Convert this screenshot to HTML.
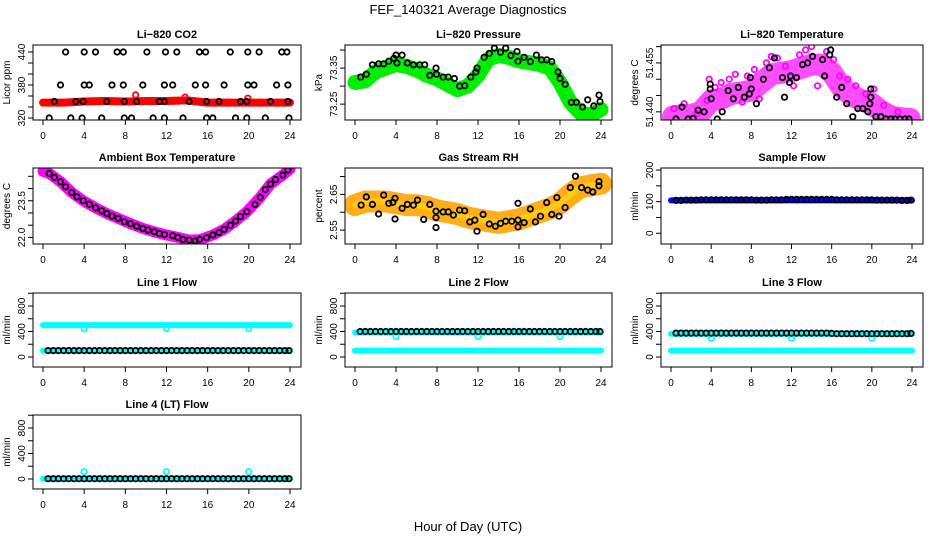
<!DOCTYPE html>
<html><head><meta charset="utf-8"><style>
html,body{margin:0;padding:0;background:#fff;}
svg{display:block;font-family:"Liberation Sans",Arial,sans-serif;}
</style></head><body>
<svg id="chart" width="936" height="540" viewBox="0 0 936 540" xmlns="http://www.w3.org/2000/svg">
<rect width="936" height="540" fill="#fff"/>
<text x="468" y="14" text-anchor="middle" font-size="13">FEF_140321  Average Diagnostics</text>
<text x="468" y="531" text-anchor="middle" font-size="13">Hour of Day (UTC)</text>
</svg>
<script>
// ---------- data ----------
const xTicks = [0,4,8,12,16,20,24];
// CO2
const co2Hours = [2.2,4.0,5.1,7.2,7.8,10.1,11.9,13.0,15.2,15.8,18.2,19.9,21.0,23.2,23.7, 1.7,4.0,4.5,6.7,7.8,9.7,11.8,12.6,14.8,15.8,17.6,19.9,20.5,22.7,23.8, 1.1,3.2,3.9,6.2,7.9,9.1,11.3,11.8,14.2,15.9,17.1,19.2,19.8,22.1,23.8, 0.6,2.7,3.8,5.7,7.9,8.6,10.7,11.8,13.6,15.9,16.5,18.7,19.8,21.6,23.9];
const co2Vals = [440,440,440,440,440,440,440,440,440,440,440,440,440,440,440, 380,380,380,380,380,380,380,380,380,380,380,380,380,380,380, 350,350,350,350,350,350,350,350,350,350,350,350,350,350,350, 320,320,320,320,320,320,320,320,320,320,320,320,320,320,320];
const co2BandHours = [0,2,4,6,8,10,12,14,16,18,20,22,24];
const co2BandVals = [348,348,350,351,350,351,351,352,348,348,348,348,348];
const co2OutHours = [9.0,13.8,19.9];
const co2OutVals = [362,358,356];
// Pressure
const presHours = [0.55,1.1,1.7,2.3,2.8,3.3,3.8,4.0,4.1,4.6,5.1,5.7,6.3,6.8,7.3,7.9,7.95,8.6,9.1,9.7,10.2,10.7,11.3,11.8,11.9,12.6,13.1,13.6,14.2,14.7,15.2,15.8,15.9,16.5,17.1,17.7,18.2,18.7,19.2,19.8,20.0,20.5,21.1,21.6,22.2,22.7,23.3,23.8,23.9];
const presVals = [73.325,73.333,73.359,73.362,73.362,73.369,73.377,73.386,73.364,73.386,73.364,73.359,73.359,73.359,73.33,73.35,73.333,73.325,73.325,73.321,73.30,73.301,73.325,73.339,73.35,73.38,73.391,73.405,73.394,73.405,73.385,73.396,73.369,73.38,73.368,73.386,73.373,73.373,73.368,73.339,73.321,73.305,73.255,73.255,73.242,73.262,73.245,73.275,73.257];
const presBandHours = [0,1,2,3,4,5,6,7,8,9,10,11,12,13,14,15,16,17,18,19,20,21,22,23,24];
const presBandVals = [73.31,73.315,73.34,73.35,73.36,73.355,73.345,73.33,73.32,73.305,73.29,73.3,73.33,73.375,73.385,73.38,73.37,73.365,73.36,73.35,73.31,73.255,73.225,73.22,73.235];
// Li-820 temperature
const tempHours = [0.5,1.1,1.7,2.2,2.7,3.3,3.9,3.9,4.0,4.6,5.1,5.7,6.2,6.7,7.3,7.8,7.9,8.0,8.5,9.2,9.8,10.3,11.1,11.3,11.8,11.9,12.5,13.1,13.6,14.1,15.1,15.3,15.8,15.9,16.5,17.0,17.5,18.1,18.6,19.1,19.6,19.8,19.9,19.9,20.4,20.9,21.4,21.9,22.3,22.8,23.3,23.7];
const tempVals = [51.4378,51.4415,51.4378,51.438,51.4405,51.440,51.4485,51.447,51.444,51.4378,51.440,51.4465,51.444,51.4475,51.4445,51.4455,51.4505,51.447,51.4425,51.450,51.4535,51.4565,51.4505,51.4445,51.449,51.451,51.4505,51.4545,51.455,51.457,51.456,51.451,51.4575,51.459,51.4445,51.4475,51.4425,51.4385,51.441,51.441,51.440,51.4425,51.4445,51.447,51.4385,51.4385,51.4378,51.4378,51.4378,51.4378,51.4378,51.4378];
const tempBandHours = [0.2,1,2,3,4,5,6,7,8,9,10,11,12,13,14,15,16,17,18,19,20,21,22,23,23.8];
const tempBandVals = [51.4385,51.439,51.439,51.440,51.4435,51.444,51.4455,51.446,51.4465,51.449,51.4515,51.452,51.4525,51.4535,51.4545,51.4545,51.452,51.4475,51.445,51.4435,51.4425,51.440,51.4385,51.438,51.4378];
const tempCloudHours = [0.3,1.3,2.6,3.6,3.8,4.4,5.0,5.8,6.4,7.1,7.6,8.3,8.8,9.5,10.0,10.6,11.4,12.2,12.8,13.4,14.0,14.6,15.5,16.2,16.8,17.6,18.4,19.4,20.2,21.2,22.6];
const tempCloudVals = [51.4410,51.4425,51.4395,51.4435,51.4500,51.4475,51.4490,51.4500,51.4515,51.4430,51.4510,51.4530,51.4440,51.4550,51.4570,51.4565,51.4540,51.4480,51.4575,51.4590,51.4600,51.4480,51.4585,51.4560,51.4510,51.4500,51.4480,51.4455,51.4470,51.4420,51.4400];
// Ambient box temperature
const ambHours = [0.6,1.1,1.7,2.2,2.8,3.3,3.9,4.5,5.1,5.7,6.2,6.7,7.3,7.9,8.5,9.1,9.7,10.2,10.8,11.3,11.8,12.6,13.1,13.6,14.2,14.8,15.2,15.9,16.5,17.1,17.6,18.2,18.7,19.2,19.8,20.6,21.1,21.6,22.1,22.6,23.3,23.8];
const ambVals = [24.62,24.46,24.28,24.07,23.84,23.66,23.5,23.36,23.21,23.09,22.98,22.87,22.78,22.64,22.56,22.46,22.37,22.3,22.23,22.16,22.12,22.07,22.0,21.92,21.89,21.86,21.92,21.99,22.1,22.2,22.33,22.5,22.67,22.85,23.05,23.35,23.64,23.96,24.18,24.37,24.55,24.76];
const ambBandHours = [0,0.6,1.7,2.8,3.9,5.1,6.2,7.3,8.5,9.7,10.8,11.8,13.1,14.2,15.2,16.5,17.6,18.7,19.8,21.1,22.1,23.3,24];
const ambBandVals = [24.70,24.62,24.28,23.84,23.5,23.21,22.98,22.78,22.56,22.37,22.23,22.12,22.0,21.89,21.9,22.1,22.33,22.67,23.05,23.64,24.18,24.55,24.80];
// Gas stream RH
const rhHours = [0.6,1.1,1.7,2.3,2.8,3.3,3.7,3.9,3.9,4.6,5.1,5.7,6.1,6.7,7.3,7.9,7.9,7.9,8.6,9.1,9.6,10.2,10.7,11.2,11.7,11.9,12.5,13.1,13.7,14.2,14.7,15.3,15.9,15.9,15.9,16.5,17.1,17.6,18.1,18.7,19.2,19.7,19.9,20.5,21.0,21.5,22.1,22.7,23.2,23.8,23.8];
const rhVals = [2.620,2.643,2.622,2.595,2.648,2.625,2.628,2.639,2.581,2.611,2.622,2.620,2.634,2.580,2.622,2.603,2.585,2.557,2.601,2.601,2.592,2.606,2.604,2.573,2.578,2.547,2.594,2.567,2.561,2.569,2.575,2.575,2.625,2.578,2.559,2.571,2.609,2.573,2.589,2.627,2.594,2.641,2.589,2.613,2.669,2.701,2.669,2.662,2.657,2.674,2.686];
const rhBandHours = [0,1,2,3,4,5,6,7,8,9,10,11,12,13,14,15,16,17,18,19,20,21,22,23,24];
const rhBandVals = [2.62,2.63,2.63,2.63,2.625,2.62,2.62,2.615,2.605,2.6,2.595,2.585,2.58,2.575,2.57,2.575,2.58,2.59,2.6,2.61,2.625,2.65,2.67,2.675,2.68];
// Flows (half-hourly samples)
const flowHours = [0.5,1,1.5,2,2.5,3,3.5,4,4.5,5,5.5,6,6.5,7,7.5,8,8.5,9,9.5,10,10.5,11,11.5,12,12.5,13,13.5,14,14.5,15,15.5,16,16.5,17,17.5,18,18.5,19,19.5,20,20.5,21,21.5,22,22.5,23,23.5,23.9];
const sampleVals = [104,104,105,105,105,106,106,106,106,106,106,106,106,106,106,106,105,105,105,106,106,106,107,107,107,107,107,107,107,107,107,107,106,106,106,106,106,106,106,106,105,105,105,105,105,104,104,105];
const line1Vals = [100,100,100,100,100,100,100,100,100,100,100,100,100,100,100,100,100,100,100,100,100,100,100,100,100,100,100,100,100,100,100,100,100,100,100,100,100,100,100,100,100,100,100,100,100,100,100,100];
const line2Vals = [400,400,400,400,400,400,400,400,400,400,400,400,400,400,400,400,400,400,400,400,400,400,400,400,400,400,400,400,400,400,400,400,400,400,400,400,400,400,400,400,400,400,400,400,400,400,400,400];
const line3Vals = [375,375,375,375,375,375,375,375,375,375,375,375,375,375,375,375,375,375,375,375,375,375,375,375,375,375,375,375,375,375,375,370,365,365,365,365,365,365,365,365,365,365,365,365,365,365,365,370];
const line4Vals = [5,5,5,5,5,5,5,5,5,5,5,5,5,5,5,5,5,5,5,5,5,5,5,5,5,5,5,5,5,5,5,5,5,5,5,5,5,5,5,5,5,5,5,5,5,5,5,5];
const bandHours = [0,24];
const line1Band = [500,500];
const line1Low = [100,100];
const line2Band = [385,385];
const line2Low = [100,100];
const line3Band = [365,365];
const line3Low = [100,100];
const line4Band = [5,5];
const dipHours = [4,12,20];
const line1Dips = [445,445,445];
const line2Dips = [320,320,320];
const line3Dips = [295,295,295];
const line4Dips = [115,115,115];

// ---------- rendering ----------
const svg = document.getElementById('chart');
const NS = 'http://www.w3.org/2000/svg';
function mk(tag, attrs, parent){
  const e = document.createElementNS(NS, tag);
  for (const k in attrs) e.setAttribute(k, attrs[k]);
  (parent||svg).appendChild(e);
  return e;
}
function Panel(name, l, r, t, b, ymin, ymax){
  const p = {l, r, t, b, ymin, ymax};
  p.g = mk('g', {});
  
  
  p.x = h => (l + 10) + h * ((r - 11) - (l + 10)) / 24;
  p.y = v => b - (v - ymin) * (b - t) / (ymax - ymin);
  const cid = 'clip-' + name;
  const cp = mk('clipPath', {id: cid}, p.g);
  mk('rect', {x: l, y: t, width: r - l, height: b - t}, cp);
  p.data = mk('g', {'clip-path': 'url(#' + cid + ')'}, p.g);
  
  
  return p;
}
function axes(p, title, ylab, yTicks, yLabels){
  const box = mk('rect', {x: p.l, y: p.t, width: p.r - p.l, height: p.b - p.t, fill: 'none', stroke: '#000', 'stroke-width': 1}, p.g);
  
  
  const tt = mk('text', {x: (p.l + p.r) / 2, y: p.t - 7, 'text-anchor': 'middle', 'font-size': 11, 'font-weight': 'bold'}, p.g);
  tt.textContent = title;
  
  
  const yt = mk('text', {transform: 'translate(' + (p.l - 23) + ',' + ((p.t + p.b) / 2) + ') rotate(-90)', 'text-anchor': 'middle', 'font-size': 10}, p.g);
  yt.textContent = ylab;
  
  
  xTicks.forEach(h => {
    const X = p.x(h);
    mk('line', {x1: X, x2: X, y1: p.b, y2: p.b + 5, stroke: '#000'}, p.g);
    const lb = mk('text', {x: X, y: p.b + 19, 'text-anchor': 'middle', 'font-size': 10}, p.g);
    lb.textContent = h;
    
    
  });
  mk('line', {x1: p.x(0), x2: p.x(24), y1: p.b, y2: p.b, stroke: '#000'}, p.g);
  yTicks.forEach((v, i) => {
    const Y = p.y(v);
    mk('line', {x1: p.l - 5, x2: p.l, y1: Y, y2: Y, stroke: '#000'}, p.g);
    if (yLabels[i] !== '') {
      const lb = mk('text', {transform: 'translate(' + (p.l - 8) + ',' + Y + ') rotate(-90)', 'text-anchor': 'middle', 'font-size': 10}, p.g);
      lb.textContent = yLabels[i];
      
      
    }
  });
}
function band(p, hs, vs, color, w, op){
  const d = hs.map((h, i) => (i ? 'L' : 'M') + p.x(h).toFixed(1) + ',' + p.y(vs[i]).toFixed(1)).join('');
  const e = mk('path', {d: d, fill: 'none', stroke: color, 'stroke-width': w, 'stroke-linejoin': 'round', 'stroke-linecap': 'round', opacity: op || 1}, p.data);
  
  
}
function pts(p, hs, vs, color, r, sw){
  hs.forEach((h, i) => {
    const c = mk('circle', {cx: p.x(h).toFixed(1), cy: p.y(vs[i]).toFixed(1), r: r || 2.7, fill: 'none', stroke: color, 'stroke-width': sw || 1.8}, p.data);
    
    
  });
}
const C1 = [33, 301], C2 = [345, 612], C3 = [661, 923];
const R1 = [45, 120], R2 = [168, 244], R3 = [293, 367], R4 = [415, 489];
const flowTicks = [0,200,400,600,800,1000], flowLabels = ['0','','400','','800',''];

// CO2
let p = Panel('co2-panel', C1[0], C1[1], R1[0], R1[1], 316.4, 452.7);
band(p, co2BandHours, co2BandVals, '#ff0000', 8);
pts(p, co2OutHours, co2OutVals, '#ff0000');
pts(p, co2Hours, co2Vals, '#000');
axes(p, 'Li\u2212820 CO2', 'Licor ppm', [320,340,360,380,400,420,440], ['320','','','380','','','440']);

// Pressure
p = Panel('pressure-panel', C2[0], C2[1], R1[0], R1[1], 73.206, 73.414);
band(p, presBandHours, presBandVals, '#00ee00', 15);
pts(p, presHours, presVals, '#000');
axes(p, 'Li\u2212820 Pressure', 'kPa', [73.25,73.30,73.35,73.40], ['73.25','','73.35','']);

// Temperature
p = Panel('li820-temp-panel', C3[0], C3[1], R1[0], R1[1], 51.4375, 51.4605);
band(p, tempBandHours, tempBandVals, '#ff00ff', 22, 0.7);
pts(p, tempCloudHours, tempCloudVals, '#ff00ff');
pts(p, tempHours, tempVals, '#000');
axes(p, 'Li\u2212820 Temperature', 'degrees C', [51.440,51.445,51.450,51.455,51.460], ['51.440','','','51.455','']);

// Ambient
p = Panel('ambient-temp-panel', C1[0], C1[1], R2[0], R2[1], 21.73, 24.84);
band(p, ambBandHours, ambBandVals, '#ff00ff', 11);
pts(p, ambHours, ambVals, '#000');
axes(p, 'Ambient Box Temperature', 'degrees C', [22,22.5,23,23.5,24,24.5], ['22.0','','','23.5','','']);

// RH
p = Panel('rh-panel', C2[0], C2[1], R2[0], R2[1], 2.511, 2.724);
band(p, rhBandHours, rhBandVals, '#ffa500', 22, 0.9);
band(p, rhBandHours, rhBandVals, '#ffff00', 6, 0.35);
pts(p, rhHours, rhVals, '#000');
axes(p, 'Gas Stream RH', 'percent', [2.55,2.60,2.65,2.70], ['2.55','','2.65','']);

// Sample flow
p = Panel('sample-flow-panel', C3[0], C3[1], R2[0], R2[1], -34, 206.5);
band(p, [0,24], [104,104], '#0000ff', 6);
pts(p, flowHours, sampleVals, '#000');
axes(p, 'Sample Flow', 'ml/min', [0,50,100,150,200], ['0','','100','','200']);

// Line 1
p = Panel('line1-flow-panel', C1[0], C1[1], R3[0], R3[1], -157, 1004);
band(p, bandHours, line1Band, '#00ffff', 6);
band(p, bandHours, line1Low, '#00ffff', 6);
pts(p, dipHours, line1Dips, '#00ffff');
pts(p, flowHours, line1Vals, '#000');
axes(p, 'Line 1 Flow', 'ml/min', flowTicks, flowLabels);

// Line 2
p = Panel('line2-flow-panel', C2[0], C2[1], R3[0], R3[1], -157, 1004);
band(p, bandHours, line2Band, '#00ffff', 6);
band(p, bandHours, line2Low, '#00ffff', 6);
pts(p, dipHours, line2Dips, '#00ffff');
pts(p, flowHours, line2Vals, '#000');
axes(p, 'Line 2 Flow', 'ml/min', flowTicks, flowLabels);

// Line 3
p = Panel('line3-flow-panel', C3[0], C3[1], R3[0], R3[1], -157, 1004);
band(p, bandHours, line3Band, '#00ffff', 6);
band(p, bandHours, line3Low, '#00ffff', 6);
pts(p, dipHours, line3Dips, '#00ffff');
pts(p, flowHours, line3Vals, '#000');
axes(p, 'Line 3 Flow', 'ml/min', flowTicks, flowLabels);

// Line 4
p = Panel('line4-flow-panel', C1[0], C1[1], R4[0], R4[1], -157, 1004);
band(p, bandHours, line4Band, '#00ffff', 6);
pts(p, dipHours, line4Dips, '#00ffff');
pts(p, flowHours, line4Vals, '#000');
axes(p, 'Line 4 (LT) Flow', 'ml/min', flowTicks, flowLabels);
</script>
</body></html>
